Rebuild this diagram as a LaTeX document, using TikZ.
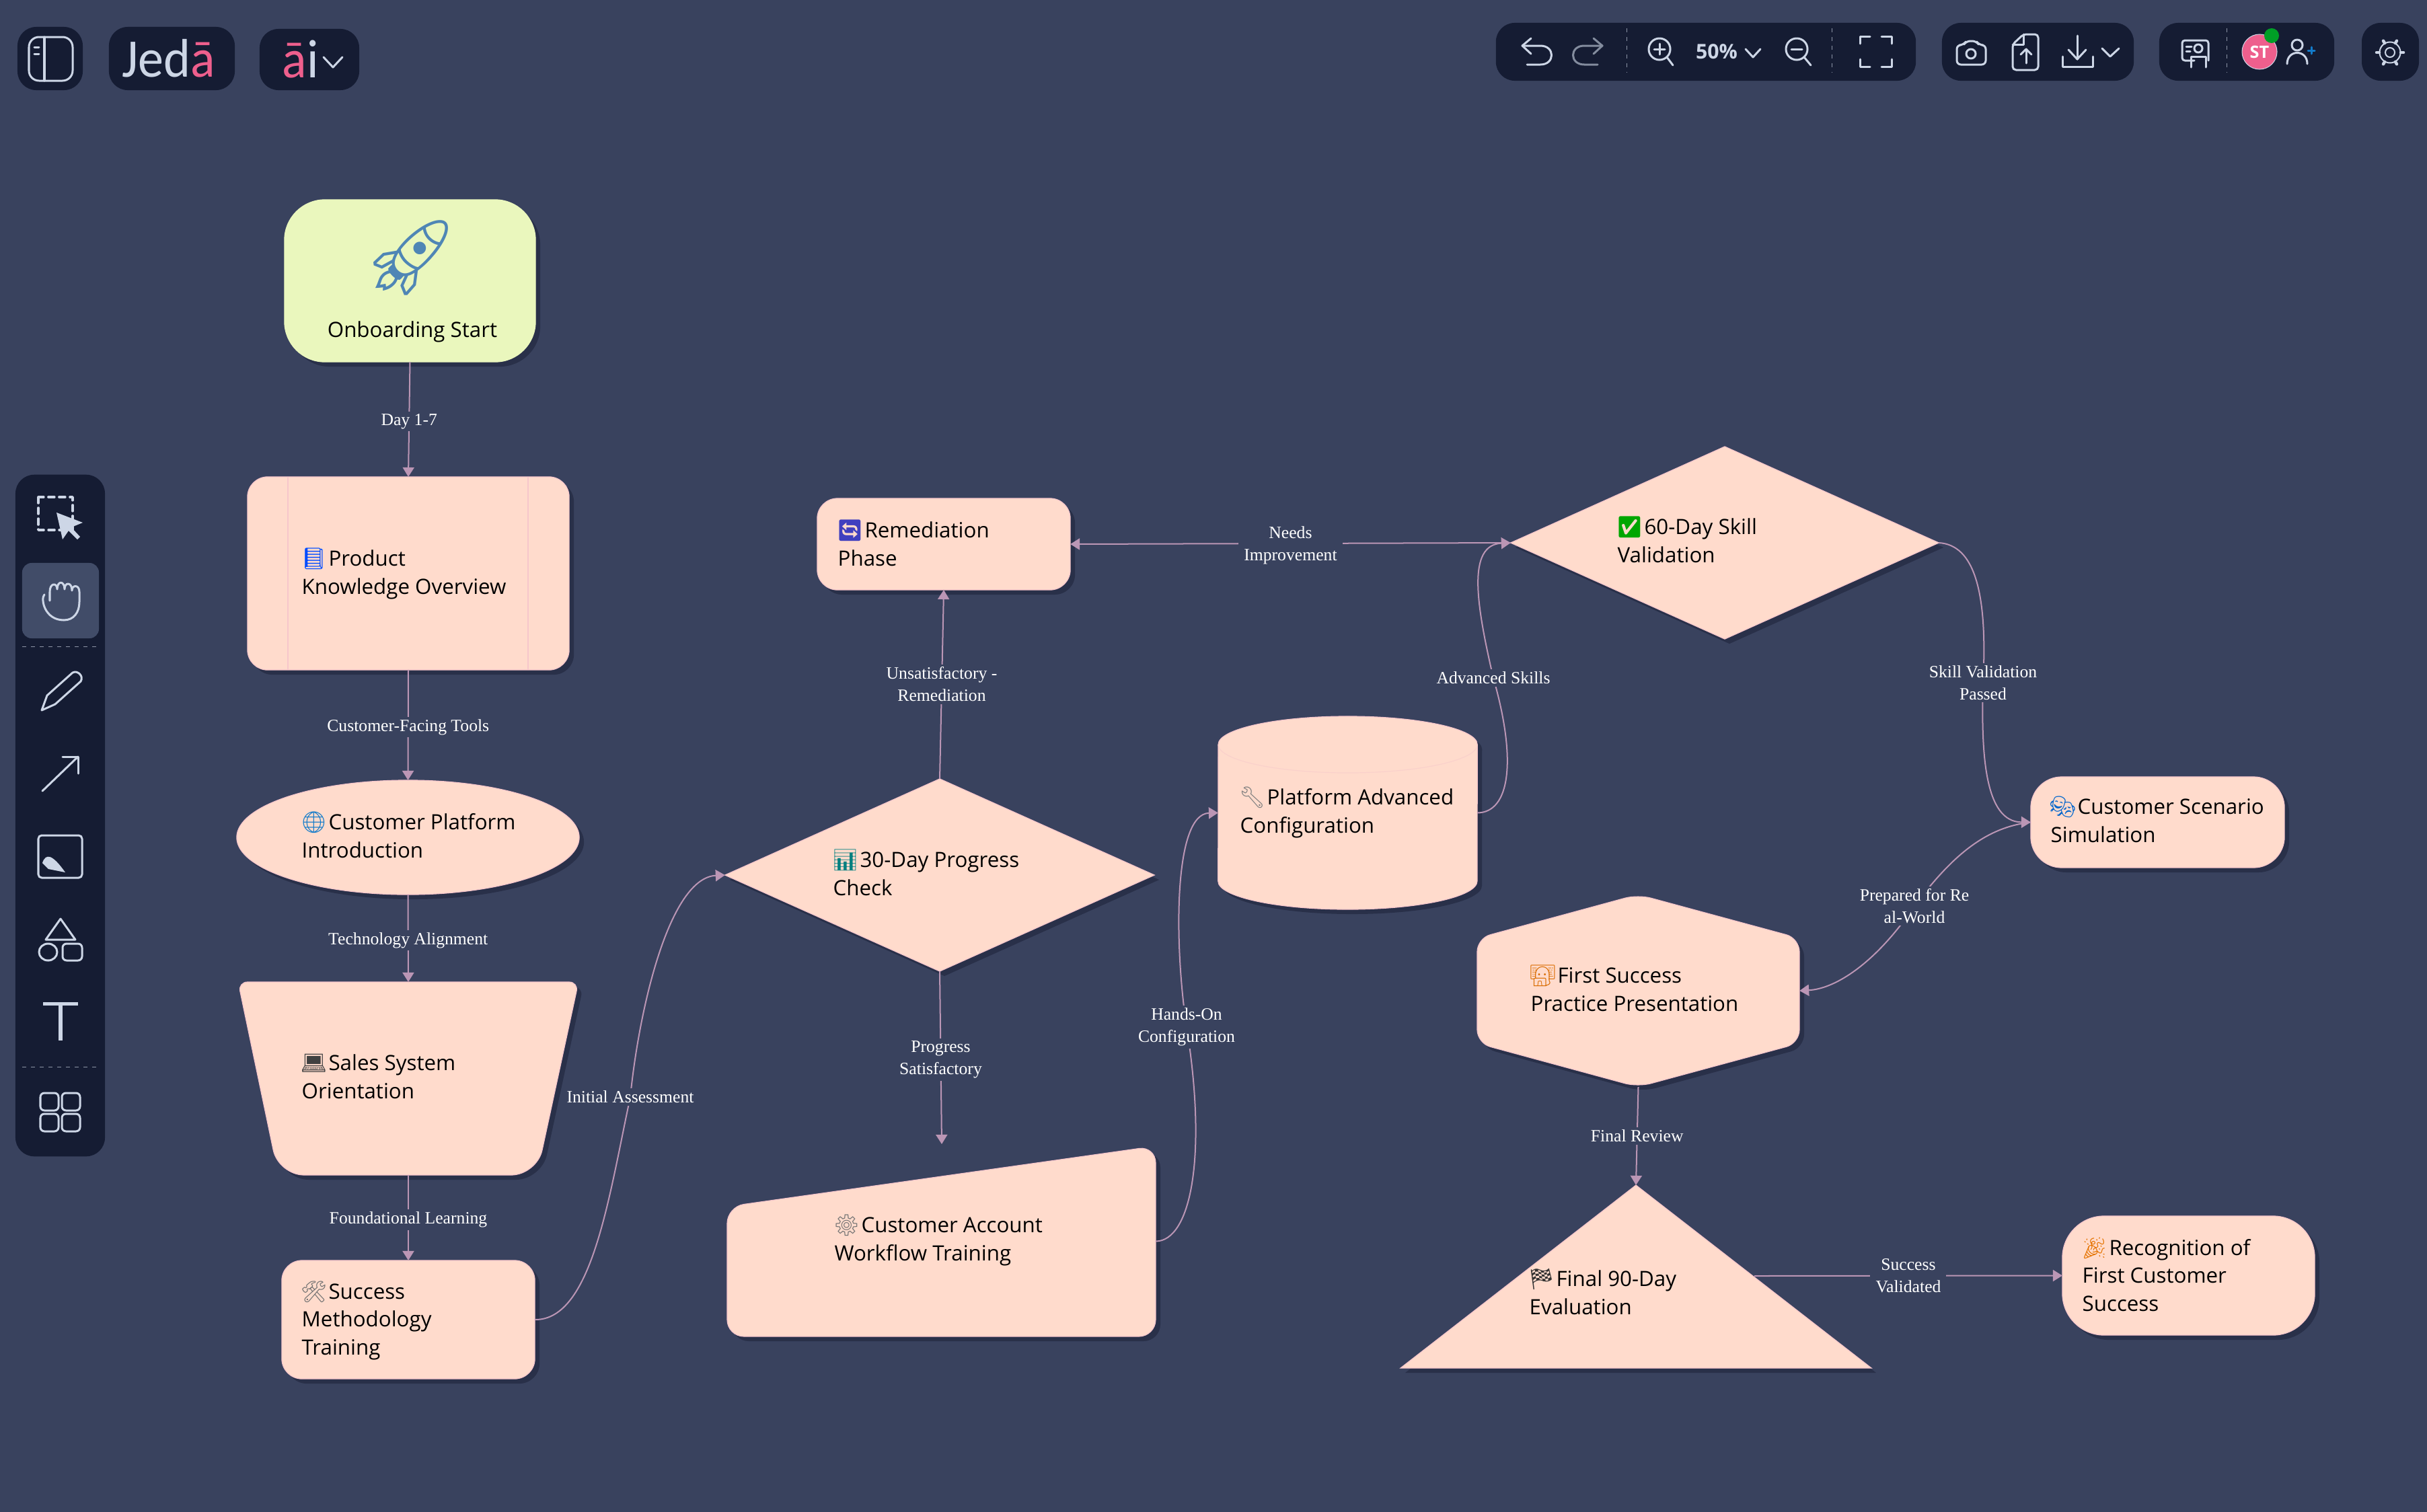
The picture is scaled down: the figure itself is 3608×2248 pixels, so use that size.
\documentclass[tikz,border=0pt]{standalone}
\usepackage{fontspec}
\setmainfont{Open Sans}
\newfontfamily\emojifont{Noto Emoji}
\newfontfamily\linkfont{Liberation Serif}
\newfontfamily\logofont[FakeStretch=0.94]{Carlito}
\usetikzlibrary{arrows.meta}
\usetikzlibrary{shapes.geometric}
\usetikzlibrary{shadows}

\definecolor{pagec}{HTML}{39425E}
\definecolor{panelc}{HTML}{151C33}
\definecolor{hoverc}{HTML}{414C68}
\definecolor{iconc}{HTML}{CDD6E6}
\definecolor{pinkc}{HTML}{EE5F8D}
\definecolor{cardc}{HTML}{FFDBCC}
\definecolor{cardline}{HTML}{F6C6CB}
\definecolor{startc}{HTML}{EAF7BD}
\definecolor{shadowc}{HTML}{293049}
\definecolor{linkc}{HTML}{BB96B5}
\definecolor{rocketc}{HTML}{4F86B5}

\newcommand{\emo}[2]{\hspace{-0.02cm}{\color{#1}\emojifont #2}\hspace{-0.06cm}}

\tikzset{
  x=0.01cm, y=-0.01cm,
  card/.style={fill=cardc, draw=cardline, line width=0.012cm,
    drop shadow={shadow xshift=0.07cm, shadow yshift=-0.07cm, fill=shadowc, opacity=1}},
  box/.style n args={3}{card, rectangle, rounded corners=#3, inner sep=0, outer sep=0,
    minimum width=#1, minimum height=#2},
  ghost/.style 2 args={rectangle, inner sep=0, outer sep=0, minimum width=#1, minimum height=#2},
  txt/.style={anchor=base west, align=left, inner sep=0, text=black,
    font=\fontsize{8.9}{11.8}\selectfont},
  link/.style={color=linkc, line width=0.02cm, -{Triangle[width=0.17cm,length=0.14cm]}},
  lbl/.style={fill=pagec, text=white, align=center, inner xsep=0.08cm, inner ysep=0.035cm,
    font=\linkfont\fontsize{7.3}{9.4}\selectfont},
  midlbl/.style={lbl, yshift=-0.03cm},
  panel/.style 2 args={fill=panelc, rectangle, rounded corners=0.28cm, inner sep=0, outer sep=0,
    minimum width=#1, minimum height=#2},
  icon/.style={draw=iconc, line width=0.03cm, line cap=round, line join=round},
  sepline/.style={draw=iconc!65!panelc, line width=0.01cm, dash pattern=on 0.06cm off 0.07cm},
}

\begin{document}
\begin{tikzpicture}
  \useasboundingbox (0,0) rectangle (3608,2248);
  \fill[pagec] (0,0) rectangle (3608,2248);

  % top left buttons
  \node[panel={0.97cm}{0.94cm}] (sideBtn) at (74.5,87) {};
  \node[panel={1.87cm}{0.94cm}] (logoBtn) at (255.5,87) {};
  \node[panel={1.48cm}{0.91cm}] (aiBtn) at (460,88.5) {};
  \draw[icon, rounded corners=0.15cm] (43,55) rectangle (108,120);
  \draw[icon] (66,55) -- (66,120);
  \draw[icon] (51,70) -- (58,70);
  \draw[icon] (51,80) -- (58,80);
  \node[anchor=base west, inner sep=0, font=\logofont\fontsize{23}{23}\selectfont] (logoText) at (181,114)
    {\textcolor{iconc}{Jed}\textcolor{pinkc}{ā}};
  \node[anchor=base west, inner sep=0, font=\logofont\fontsize{23}{23}\selectfont] (aiText) at (419,115)
    {\textcolor{pinkc}{ā}\textcolor{iconc}{i}};
  \draw[icon] (481,85) -- (495,100) -- (509,85);

  % top right panels
  \node[panel={6.24cm}{0.86cm}] (viewPanel) at (2536,77) {};
  \node[panel={2.85cm}{0.86cm}] (filePanel) at (3029.5,77) {};
  \node[panel={2.60cm}{0.86cm}] (userPanel) at (3340,77) {};
  \node[panel={0.85cm}{0.86cm}] (gearPanel) at (3553.5,77) {};
  \draw[sepline] (2418,42) -- (2418,108);
  \draw[sepline] (2723,42) -- (2723,108);
  \draw[sepline] (3310,42) -- (3310,108);
  \draw[icon] (2276,57) -- (2263,68) -- (2276,80);
  \draw[icon] (2263,68) -- (2290,68) .. controls (2312,68) and (2312,96) .. (2290,96) -- (2270,96);
  \draw[icon, draw=iconc!60!panelc] (2369,57) -- (2382,68) -- (2369,80);
  \draw[icon, draw=iconc!60!panelc] (2382,68) -- (2355,68) .. controls (2333,68) and (2333,96) .. (2355,96) -- (2375,96);
  \draw[icon] (2467,73) circle (0.16cm);
  \draw[icon] (2478,85) -- (2487,97);
  \draw[icon] (2459,73) -- (2475,73);
  \draw[icon] (2467,65) -- (2467,81);
  \node[inner sep=0, text=iconc, font=\bfseries\fontsize{8.6}{10}\selectfont] (zoomText) at (2552,77) {50\%};
  \draw[icon] (2595,73) -- (2606,85) -- (2617,73);
  \draw[icon] (2671,73) circle (0.16cm);
  \draw[icon] (2682,85) -- (2692,97);
  \draw[icon] (2663,73) -- (2679,73);
  \draw[icon] (2765,65) -- (2765,54) -- (2780,54);
  \draw[icon] (2797,54) -- (2812,54) -- (2812,65);
  \draw[icon] (2812,88) -- (2812,99) -- (2797,99);
  \draw[icon] (2780,99) -- (2765,99) -- (2765,88);
  \draw[icon, rounded corners=0.06cm] (2909,67) -- (2919,67) -- (2923,61) -- (2938,61) -- (2942,67) -- (2952,67) -- (2952,96) -- (2909,96) -- cycle;
  \draw[icon] (2930,80) circle (0.07cm);
  \draw[icon, rounded corners=0.05cm] (2992,66) -- (3008,51) -- (3030,51) -- (3030,104) -- (2992,104) -- cycle;
  \draw[icon] (2992,66) -- (3008,66) -- (3008,51);
  \draw[icon] (3012,94) -- (3012,73);
  \draw[icon] (3004,81) -- (3012,73) -- (3020,81);
  \draw[icon] (3088,53) -- (3088,88);
  \draw[icon] (3075,74) -- (3088,88) -- (3101,74);
  \draw[icon] (3066,84) -- (3066,99) -- (3111,99) -- (3111,84);
  \draw[icon] (3125,72) -- (3137,84) -- (3150,72);
  \draw[icon, rounded corners=0.04cm] (3262,90) -- (3244,90) -- (3244,60) -- (3283,60) -- (3283,90);
  \draw[icon] (3268,72) circle (0.06cm);
  \draw[icon] (3257,100) -- (3257,84) -- (3279,84) -- (3279,100);
  \draw[icon] (3250,69) -- (3258,69);
  \draw[icon] (3250,76) -- (3256,76);
  \node[circle, fill=pinkc, draw=iconc, line width=0.01cm, minimum size=0.52cm, inner sep=0, text=white,
    font=\bfseries\fontsize{7.2}{8}\selectfont] (userBadge) at (3359,77) {ST};
  \fill[green!55!black!85!cyan] (3377,53) circle (0.11cm);
  \draw[icon] (3415,67) circle (0.08cm);
  \draw[icon] (3400,95) .. controls (3400,73) and (3430,73) .. (3430,95);
  \draw[icon, draw=cyan!60!blue] (3431,75) -- (3441,75);
  \draw[icon, draw=cyan!60!blue] (3436,70) -- (3436,80);
  \draw[icon, line width=0.02cm] (3553,78) circle (0.07cm);
  \draw[icon, line width=0.02cm] (3553,78) circle (0.155cm);
  \foreach \a in {0,60,...,300}
    \draw[icon, line width=0.045cm] ({3553+16*cos(\a)},{78+16*sin(\a)}) -- ({3553+20*cos(\a)},{78+20*sin(\a)});

  % left tool bar
  \node[panel={1.33cm}{10.13cm}] (toolPanel) at (89.5,1212.5) {};
  \node[fill=hoverc, rectangle, rounded corners=0.14cm, inner sep=0, minimum width=1.14cm, minimum height=1.12cm] (handBtn) at (90,893) {};
  \draw[icon, dash pattern=on 0.09cm off 0.07cm, line width=0.035cm] (57,739) rectangle (108,788);
  \fill[iconc] (84,762) -- (123,777) -- (106,784) -- (119,798) -- (115,802) -- (102,789) -- (93,802) -- cycle;
  \draw[icon] (66,884) .. controls (60,890) and (66,922) .. (95,922) .. controls (110,922) and (118,910) .. (118,895) -- (118,880)
    .. controls (118,869) and (107,869) .. (107,878) .. controls (107,865) and (96,865) .. (96,876)
    .. controls (96,863) and (85,863) .. (85,876) .. controls (85,866) and (74,866) .. (74,880) -- (74,893);
  \draw[sepline] (33,961) -- (146,961);
  \draw[icon] (62,1056) -- (70,1034) -- (108,1000) .. controls (115,996) and (125,1005) .. (120,1013) -- (82,1047) -- cycle;
  \draw[icon] (63,1176) -- (116,1125);
  \draw[icon] (93,1125) -- (116,1125) -- (116,1150);
  \draw[icon, rounded corners=0.05cm] (57,1242) rectangle (122,1305);
  \fill[iconc] (63,1283) .. controls (68,1268) and (78,1270) .. (97,1297) -- (72,1292) -- cycle;
  \draw[icon] (90,1366) -- (112,1397) -- (68,1397) -- cycle;
  \draw[icon] (71.5,1415.5) ellipse (0.135cm and 0.125cm);
  \draw[icon, rounded corners=0.06cm] (93,1403) rectangle (122,1428);
  \draw[icon, line width=0.05cm, line cap=butt] (64,1492) -- (116,1492);
  \draw[icon, line width=0.05cm, line cap=butt] (90,1492) -- (90,1547);
  \draw[sepline] (33,1586) -- (146,1586);
  \draw[icon, rounded corners=0.06cm] (60,1625) rectangle (87,1651);
  \draw[icon, rounded corners=0.06cm] (92,1625) rectangle (119,1651);
  \draw[icon, rounded corners=0.06cm] (60,1656) rectangle (87,1682);
  \draw[icon, rounded corners=0.06cm] (92,1656) rectangle (119,1682);

  % flow shapes
  \node[box={3.73cm}{2.41cm}{0.6cm}, fill=startc, draw=startc] (start) at (609.5,417.5) {};
  \node[box={4.78cm}{2.87cm}{0.3cm}] (product) at (607,852.5) {};
  \draw[cardline, line width=0.012cm] (428,709) -- (428,996);
  \draw[cardline, line width=0.012cm] (785,709) -- (785,996);
  \node[card, ellipse, inner sep=0, outer sep=0, minimum width=5.09cm, minimum height=1.70cm] (platform) at (606.5,1245) {};
  \path[card] (354,1460) [rounded corners=0.14cm] -- (860,1460) [rounded corners=0.38cm] -- (798,1747) -- (414,1747) [rounded corners=0.14cm] -- cycle;
  \node[ghost={5.06cm}{2.87cm}] (sales) at (607,1603.5) {};
  \node[box={3.76cm}{1.76cm}{0.3cm}] (method) at (607,1962) {};
  \node[card, diamond, aspect=2.2, inner sep=0, outer sep=0, minimum width=6.38cm, minimum height=2.86cm] (check) at (1397,1301) {};
  \path[card, rounded corners=0.25cm] (1081,1794) -- (1718,1704) -- (1718,1987) -- (1081,1987) -- cycle;
  \node[ghost={6.37cm}{2.83cm}] (account) at (1399.5,1845.5) {};
  \node[box={3.76cm}{1.36cm}{0.3cm}] (remedy) at (1403,809) {};
  \path[card] (1811,1107) arc[start angle=180, end angle=0, x radius=1.925cm, y radius=0.42cm]
    -- (2196,1310) arc[start angle=0, end angle=-180, x radius=1.925cm, y radius=0.42cm] -- cycle;
  \draw[cardline!50!cardc, line width=0.012cm] (1811,1107) arc[start angle=180, end angle=360, x radius=1.925cm, y radius=0.42cm];
  \node[ghost={3.85cm}{2.87cm}] (advanced) at (2003.5,1208.5) {};
  \node[card, diamond, aspect=2.2, inner sep=0, outer sep=0, minimum width=6.36cm, minimum height=2.86cm] (validation) at (2564,807) {};
  \node[box={3.77cm}{1.35cm}{0.46cm}] (scenario) at (3207.5,1222.5) {};
  \path[card, rounded corners=0.2cm] (2196,1395) -- (2435,1330) -- (2675,1395) -- (2675,1551) -- (2435,1616) -- (2196,1551) -- cycle;
  \node[ghost={4.79cm}{2.86cm}] (practice) at (2435.5,1473) {};
  \path[card] (2432,1762) -- (2782,2034) -- (2082,2034) -- cycle;
  \node[ghost={7.00cm}{2.72cm}] (finalEval) at (2432,1898) {};
  \coordinate (finalEdge) at (2608,1897);
  \node[box={3.75cm}{1.77cm}{0.62cm}] (recognition) at (3253.5,1896.5) {};
  \coordinate (accountTop) at (1400,1701);

  % texts of the shapes
  \node[anchor=center, inner sep=0, font=\fontsize{32}{32}\selectfont] (rocket) at (612,383) {\emo{rocketc}{🚀}};
  \node[txt, anchor=base] (startT) at (613,501) {Onboarding Start};
  \node[txt] (productT) at (448,883) {\emo{blue!70!cyan}{📘} Product\\Knowledge Overview};
  \node[txt] (platformT) at (448,1275) {\emo{cyan!60!blue}{🌐} Customer Platform\\Introduction};
  \node[txt] (salesT) at (448,1633) {\emo{black!75}{💻} Sales System\\Orientation};
  \node[txt] (methodT) at (448,2014) {\emo{black!55}{🛠} Success\\Methodology\\Training};
  \node[txt] (checkT) at (1238,1331) {\emo{green!50!blue}{📊} 30-Day Progress\\Check};
  \node[txt] (accountT) at (1240,1874) {\emo{black!55}{⚙} Customer Account\\Workflow Training};
  \node[txt] (remedyT) at (1245,841) {\emo{blue!50!gray}{🔄} Remediation\\Phase};
  \node[txt] (advancedT) at (1843,1238) {\emo{black!50}{🔧} Platform Advanced\\Configuration};
  \node[txt] (validationT) at (2404,836) {\emo{green!65!black}{✅} 60-Day Skill\\Validation};
  \node[txt] (scenarioT) at (3048,1252) {\emo{blue!50!cyan!80!black}{🎭} Customer Scenario\\Simulation};
  \node[txt] (practiceT) at (2275,1503) {\emo{orange!85!black}{👩^^^^200d💻} First Success\\Practice Presentation};
  \node[txt] (finalT) at (2273,1954) {\emo{black!80}{🏁} Final 90-Day\\Evaluation};
  \node[txt] (recognitionT) at (3095,1949) {\emo{orange!90!black}{🎉} Recognition of\\First Customer\\Success};

  % connectors
  \path [link] (start.south) edge node[midlbl] (dayL) {Day 1-7} (product.north);
  \path [link] (product.south) edge node[midlbl] (toolsL) {Customer-Facing Tools} (platform.north);
  \path [link] (platform.south) edge node[midlbl] (alignL) {Technology Alignment} (sales.north);
  \path [link] (sales.south) edge node[midlbl] (learnL) {Foundational Learning} (method.north);
  \draw [link] (method.east) .. controls (880,1963) and (905,1780) .. (937,1631) node[lbl] (assessL) {Initial Assessment}
    .. controls (950,1500) and (995,1305) .. (check.west);
  \path [link] (check.south) edge node[midlbl] (okL) {Progress\\Satisfactory} (accountTop);
  \path [link] (check.north) edge node[lbl] (badL) {Unsatisfactory -\\Remediation} (remedy.south);
  \draw [link] (account.east) .. controls (1770,1845) and (1795,1720) .. (1764,1527) node[lbl] (handsL) {Hands-On\\Configuration}
    .. controls (1745,1400) and (1745,1210) .. (advanced.west);
  \draw [link] (advanced.east) .. controls (2245,1208) and (2255,1130) .. (2220,1008) node[lbl] (skillsL) {Advanced Skills}
    .. controls (2195,900) and (2180,810) .. (validation.west);
  \path [link] (validation.west) edge node[midlbl] (needsL) {Needs\\Improvement} (remedy.east);
  \draw [link] (validation.east) .. controls (2935,810) and (2955,880) .. (2948,1015) node[lbl] (passL) {Skill Validation\\Passed}
    .. controls (2945,1120) and (2950,1222) .. (scenario.west);
  \draw [link] (scenario.west) .. controls (2950,1230) and (2900,1275) .. (2846,1347) node[lbl] (realL) {Prepared for Re\\al-World}
    .. controls (2790,1430) and (2730,1470) .. (practice.east);
  \path [link] (practice.south) edge node[lbl] (reviewL) {Final Review} (finalEval.north);
  \path [link] (finalEdge) edge node[lbl] (validL) {Success\\Validated} (recognition.west);
\end{tikzpicture}
\end{document}
